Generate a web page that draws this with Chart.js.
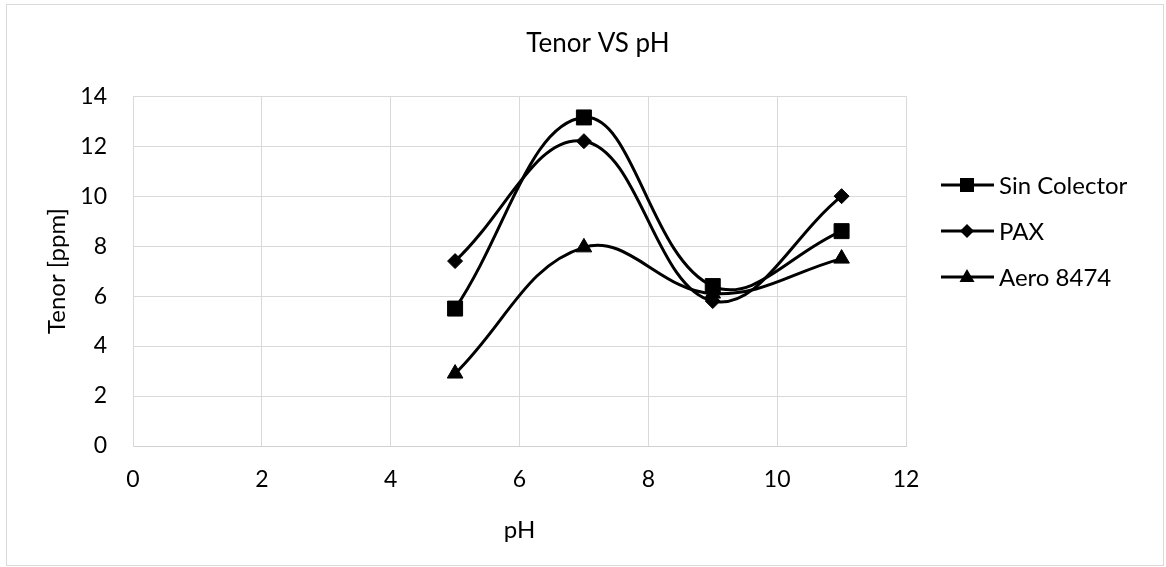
<!DOCTYPE html>
<html>
<head>
<meta charset="utf-8">
<script src="https://cdn.jsdelivr.net/npm/chart.js@4"></script>
<style>
  html, body { margin: 0; padding: 0; background: #fff; }
  #wrap { width: 1166px; height: 567px; position: relative; }
</style>
</head>
<body>
<div id="wrap"><canvas id="grafico"></canvas></div>
<script>
// valores
const phValores = [5, 7, 9, 11];
const sinColector = [5.5, 13.15, 6.4, 8.6];
const pax = [7.4, 12.2, 5.8, 10.0];
const aero8474 = [2.9, 7.95, 6.1, 7.5];
const etiquetasSeries = ["Sin Colector", "PAX", "Aero 8474"];
const marcadores = ["rect", "rectRot", "triangle"];
const radios = [10.6, 7.5, 9];

const fuente = "Lato, 'Open Sans', sans-serif";
const gris = "#d9d9d9";

function puntos(valores) {
  return phValores.map((x, i) => ({ x: x, y: valores[i] }));
}

function serie(i, valores) {
  return {
    label: etiquetasSeries[i],
    data: puntos(valores),
    showLine: true,
    tension: 0.4,
    borderColor: "#000",
    backgroundColor: "#000",
    borderWidth: 3,
    pointStyle: marcadores[i],
    pointRadius: radios[i],
    pointHoverRadius: radios[i],
    pointBorderWidth: 1,
    pointBackgroundColor: "#000",
    pointBorderColor: "#000",
  };
}

// marco exterior del grafico
const marco = {
  id: "marco",
  beforeDraw(chart) {
    const ctx = chart.ctx;
    ctx.save();
    ctx.strokeStyle = gris;
    ctx.lineWidth = 1;
    ctx.strokeRect(6.5, 4.5, 1157, 561);
    ctx.restore();
  },
};

// leyenda con linea y marcador, como en excel
const leyenda = {
  id: "leyenda",
  afterDraw(chart) {
    const ctx = chart.ctx;
    const filas = [185, 231, 277];
    ctx.save();
    chart.data.datasets.forEach((ds, i) => {
      const y = filas[i];
      ctx.strokeStyle = "#000";
      ctx.lineWidth = 3;
      ctx.beginPath();
      ctx.moveTo(941, y);
      ctx.lineTo(994, y);
      ctx.stroke();
      ctx.fillStyle = "#000";
      ctx.beginPath();
      const cx = 967;
      if (ds.pointStyle === "rect") {
        ctx.rect(cx - 7, y - 7, 14, 14);
      } else if (ds.pointStyle === "rectRot") {
        ctx.moveTo(cx - 7, y);
        ctx.lineTo(cx, y - 7);
        ctx.lineTo(cx + 7, y);
        ctx.lineTo(cx, y + 7);
        ctx.closePath();
      } else {
        ctx.moveTo(cx, y - 8);
        ctx.lineTo(cx + 7.5, y + 5);
        ctx.lineTo(cx - 7.5, y + 5);
        ctx.closePath();
      }
      ctx.fill();
      ctx.font = "24px " + fuente;
      ctx.textBaseline = "middle";
      ctx.textAlign = "left";
      ctx.fillText(ds.label, 999, y + 1);
    });
    ctx.restore();
  },
};

const ctx = document.getElementById("grafico").getContext("2d");
new Chart(ctx, {
  type: "scatter",
  data: {
    datasets: [serie(0, sinColector), serie(1, pax), serie(2, aero8474)],
  },
  options: {
    responsive: true,
    maintainAspectRatio: false,
    animation: false,
    layout: { padding: { left: 30, right: 0, top: 0, bottom: 0 } },
    plugins: {
      legend: { display: false },
      tooltip: { enabled: false },
      title: {
        display: true,
        text: "Tenor VS pH",
        color: "#000",
        font: { family: fuente, size: 26, weight: "normal" },
        padding: { top: 28, bottom: 37 },
      },
    },
    scales: {
      x: {
        type: "linear",
        min: 0,
        max: 12,
        ticks: {
          stepSize: 2,
          color: "#000",
          padding: 20,
          font: { family: fuente, size: 23 },
        },
        grid: { color: gris, drawTicks: false },
        border: { color: "#d0d0d0" },
        title: {
          display: true,
          text: "pH",
          color: "#000",
          font: { family: fuente, size: 24 },
          padding: { top: 0, bottom: 22 },
        },
        afterFit: (s) => { s.height = 121; },
      },
      y: {
        min: 0,
        max: 14,
        ticks: {
          stepSize: 2,
          color: "#000",
          padding: 26,
          font: { family: fuente, size: 23 },
        },
        grid: { color: gris, drawTicks: false },
        border: { color: gris },
        title: {
          display: true,
          text: "Tenor [ppm]",
          color: "#000",
          font: { family: fuente, size: 24 },
          padding: { top: 13, bottom: 0 },
        },
        afterFit: (s) => { s.width = 103; },
      },
      // eje vacio para dejar espacio a la leyenda
      y2: {
        position: "right",
        min: 0,
        max: 1,
        ticks: { display: false },
        grid: { display: false },
        border: { display: false },
        afterFit: (s) => { s.width = 260; },
      },
    },
  },
  plugins: [marco, leyenda],
});
</script>
</body>
</html>
